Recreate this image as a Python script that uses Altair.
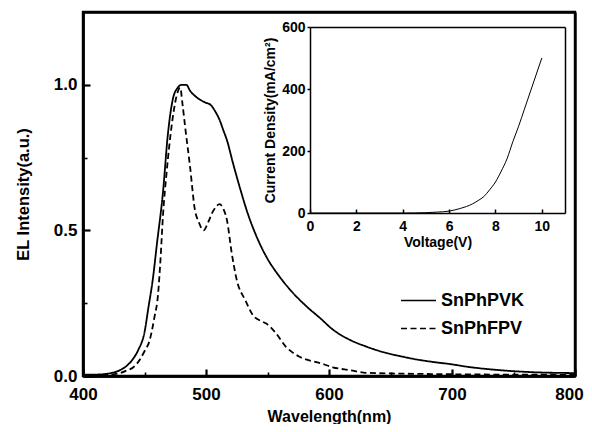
import altair as alt
import pandas as pd

# ---- data ----
wl_pvk = [400, 410, 420, 425, 430, 435, 440, 445, 450, 453, 457, 460, 465, 469, 473, 477,
          480, 484, 487, 493, 499, 504, 508, 511, 514, 517, 522, 528, 533, 541, 549, 560,
          571, 582, 593, 603, 617, 631, 644, 658, 671, 685, 700, 712, 739, 766, 800]
el_pvk = [0.005, 0.005, 0.008, 0.012, 0.02, 0.033, 0.055, 0.09, 0.15, 0.23, 0.34, 0.45, 0.63,
          0.83, 0.95, 0.99, 1.0, 1.0, 0.98, 0.955, 0.94, 0.93, 0.905, 0.88, 0.845, 0.81,
          0.73, 0.64, 0.57, 0.48, 0.41, 0.34, 0.284, 0.238, 0.198, 0.16, 0.124, 0.10, 0.082,
          0.068, 0.057, 0.048, 0.04, 0.032, 0.02, 0.013, 0.01]

wl_fpv = [400, 420, 430, 436, 441, 446, 450, 454, 458, 461, 463, 465, 468, 472, 476, 479,
          481, 483, 487, 491, 494, 498, 502, 505, 508, 511, 514, 517, 521, 525, 532, 538,
          545, 549, 557, 565, 570, 576, 593, 603, 617, 630, 660, 700, 800]
el_fpv = [0.003, 0.004, 0.01, 0.02, 0.03, 0.055, 0.085, 0.12, 0.2, 0.28, 0.4, 0.55, 0.70,
          0.857, 0.96, 0.99, 0.93, 0.857, 0.72, 0.57, 0.53, 0.50, 0.53, 0.56, 0.58, 0.59,
          0.575, 0.536, 0.42, 0.33, 0.26, 0.21, 0.188, 0.18, 0.146, 0.10, 0.082, 0.066,
          0.044, 0.03, 0.02, 0.011, 0.008, 0.006, 0.004]

series_names = ["SnPhPVK", "SnPhFPV"]

voltage = [0, 1, 2, 3, 4, 4.5, 5, 5.5, 6, 6.25, 6.5, 6.75, 7, 7.25, 7.5, 7.75, 8, 8.25, 8.5,
           8.75, 9, 9.25, 9.5, 9.75, 10]
current = [0, 0, 0, 0, 0, 0.3, 1, 3, 6, 10, 15, 21, 29, 40, 53, 75, 100, 135, 175, 230,
           280, 335, 390, 445, 500]

main_x_range = [400, 800]
main_y_range = [0, 1.25]
main_x_labels = [400, 500, 600, 700, 800]
main_x_minor = [450, 550, 650, 750]
main_y_labels = [0, 0.5, 1.0]
main_y_minor = [0.25, 0.75]
inset_x_labels = [0, 2, 4, 6, 8, 10]
inset_y_labels = [0, 200, 400, 600]

# ---- tables ----
main_df = pd.concat([
    pd.DataFrame({"wl": wl_pvk, "el": el_pvk, "series": series_names[0]}),
    pd.DataFrame({"wl": wl_fpv, "el": el_fpv, "series": series_names[1]}),
], ignore_index=True)
iv_df = pd.DataFrame({"v": voltage, "j": current})

W, H = 492, 364
FONT = "Liberation Sans"
FW = 2.4  # frame line width
XMAIN = dict(domain=main_x_range, nice=False, zero=False, range=[0, W])
YMAIN = dict(domain=main_y_range, nice=False, zero=True, range=[H, 0])
IX = dict(domain=[0, 11], nice=False, zero=True, range=[227, 482])
IY = dict(domain=[0, 600], nice=False, zero=True, range=[201, 15])

# main lines with labelled axes
main_lines = alt.Chart(main_df).mark_line(strokeWidth=1.8, color="black",
                                          interpolate="monotone").encode(
    x=alt.X("wl:Q", scale=alt.Scale(**XMAIN),
            axis=alt.Axis(orient="bottom", values=main_x_labels, ticks=False, tickSize=0,
                          domain=False, grid=False,
                          title="Wavelength(nm)", labelFlush=False, labelAlign="center",
                          labelOffset={"condition": {"test": "datum.value >= 800", "value": -6},
                                       "value": 0},
                          labelFontSize=17, labelFontWeight="bold", labelPadding=10,
                          titleFontSize=16, titleFontWeight="bold", titlePadding=6,
                          labelColor="black", titleColor="black", labelFont=FONT,
                          titleFont=FONT)),
    y=alt.Y("el:Q", scale=alt.Scale(**YMAIN),
            axis=alt.Axis(orient="left", values=main_y_labels, format=".1f", ticks=False,
                          tickSize=0, domain=False,
                          grid=False, title="EL Intensity(a.u.)", labelFlush=False,
                          labelFontSize=17, labelFontWeight="bold", labelPadding=6,
                          titleFontSize=16.5, titleFontWeight="bold", titlePadding=22,
                          labelColor="black", titleColor="black", labelFont=FONT,
                          titleFont=FONT)),
    strokeDash=alt.StrokeDash("series:N",
                              scale=alt.Scale(domain=series_names, range=[[1, 0], [6, 3.5]]),
                              legend=alt.Legend(title=None, orient="none", legendX=317,
                                                legendY=270, symbolType="stroke",
                                                symbolSize=1225, symbolStrokeWidth=1.6,
                                                symbolStrokeColor="black",
                                                labelFontSize=18, labelFont=FONT,
                                                labelFontWeight="bold", labelColor="black",
                                                rowPadding=-18, labelOffset=4)),
)


def frame_layer(orient_x, orient_y, off_x, off_y, xvals, yvals, size, width):
    """An invisible layer that only carries frame axes (domain line + inward ticks)."""
    return alt.Chart(main_df).mark_point(opacity=0).encode(
        x=alt.X("wl:Q", scale=alt.Scale(**XMAIN),
                axis=alt.Axis(orient=orient_x, offset=off_x, values=xvals, labels=False,
                              domain=True, domainColor="black", domainWidth=FW,
                              grid=False, title=None, ticks=size > 0, tickSize=max(size, 0),
                              tickWidth=width, tickColor="black")),
        y=alt.Y("el:Q", scale=alt.Scale(**YMAIN),
                axis=alt.Axis(orient=orient_y, offset=off_y, values=yvals, labels=False,
                              domain=True, domainColor="black", domainWidth=FW,
                              grid=False, title=None, ticks=size > 0, tickSize=max(size, 0),
                              tickWidth=width, tickColor="black")),
    )


# bottom/left edges with inward ticks (axes flipped so ticks point inward)
frame_major = frame_layer("top", "right", -(H - 0.01), -(W - 0.01), main_x_labels,
                          main_y_labels, 7, 2.2)
frame_minor = frame_layer("top", "right", -(H - 0.01), -(W - 0.01), main_x_minor,
                          main_y_minor, 4, 1.6)
# top/right edges
frame_tr = frame_layer("top", "right", -0.01, -0.01, [], [], 0, 1)

# inset curve with labelled axes
inset_line = alt.Chart(iv_df).mark_line(strokeWidth=1, color="black",
                                        interpolate="monotone").encode(
    x=alt.X("v:Q", scale=alt.Scale(**IX),
            axis=alt.Axis(orient="bottom", offset=-(H - 201), values=inset_x_labels,
                          ticks=False, tickSize=0, domain=True, domainColor="black",
                          domainWidth=1.5, grid=False, title="Voltage(V)", labelFlush=False,
                          labelFontSize=14, labelFontWeight="bold", labelPadding=6,
                          titleFontSize=14, titleFontWeight="bold", titlePadding=2,
                          labelColor="black", titleColor="black", labelFont=FONT,
                          titleFont=FONT)),
    y=alt.Y("j:Q", scale=alt.Scale(**IY),
            axis=alt.Axis(orient="left", offset=-227, values=inset_y_labels, ticks=True,
                          tickSize=3, tickColor="black", tickWidth=1.5, domain=True,
                          domainColor="black", domainWidth=1.5, grid=False, labelFlush=False,
                          title="Current Density(mA/cm²)", labelFontSize=14,
                          labelFontWeight="bold", labelPadding=2, titleFontSize=14,
                          titleFontWeight="bold", titlePadding=4, labelColor="black",
                          titleColor="black", labelFont=FONT, titleFont=FONT)),
)

# inset: inward x ticks and right edge
inset_ticks = alt.Chart(iv_df).mark_line(opacity=0).encode(
    x=alt.X("v:Q", scale=alt.Scale(**IX),
            axis=alt.Axis(orient="top", offset=-201, values=inset_x_labels, labels=False,
                          domain=False, grid=False, title=None, ticks=True, tickSize=4,
                          tickWidth=1.5, tickColor="black")),
    y=alt.Y("j:Q", scale=alt.Scale(**IY),
            axis=alt.Axis(orient="right", offset=-(W - 482), labels=False, ticks=False,
                          domain=True, domainColor="black", domainWidth=1.5, grid=False,
                          title=None)),
)

# inset: top edge
inset_top = alt.Chart(iv_df).mark_line(opacity=0).encode(
    x=alt.X("v:Q", scale=alt.Scale(**IX),
            axis=alt.Axis(orient="top", offset=-15, labels=False, ticks=False, domain=True,
                          domainColor="black", domainWidth=1.5, grid=False, title=None)),
    y=alt.Y("j:Q", scale=alt.Scale(**IY), axis=None),
)

chart = alt.layer(inset_line, inset_ticks, inset_top, frame_major, frame_minor, frame_tr,
                  main_lines).resolve_scale(
    x="independent", y="independent", strokeDash="independent"
).properties(
    width=W, height=H,
    background="white",
    autosize=alt.AutoSizeParams(type="none"),
    padding={"left": 75, "top": 4, "right": 9, "bottom": 48},
).configure_view(
    stroke="black", strokeWidth=FW
)

chart.save("out.html", embed_options={"renderer": "svg", "actions": False})
